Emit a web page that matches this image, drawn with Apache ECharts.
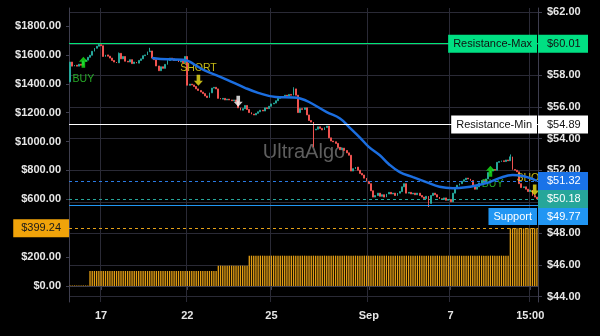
<!DOCTYPE html>
<html>
<head>
<meta charset="utf-8">
<script src="https://cdn.jsdelivr.net/npm/echarts/dist/echarts.min.js"></script>
<style>
  html, body { margin: 0; padding: 0; background: #000; }
  #chart { width: 600px; height: 336px; }
</style>
</head>
<body>
<div id="chart"></div>
<script>
// Hourly closes, oldest first (right price scale, USD)
const closes = [
  58.85, 58.59, 58.65, 58.59, 58.71, 58.65, 58.90, 58.97, 59.15, 59.28,
  59.53, 59.72, 59.85, 59.95, 59.88, 59.20, 59.30, 59.22, 59.10, 58.95,
  58.85, 58.80, 59.40, 59.05, 59.20, 58.90, 58.85, 59.00, 58.75, 58.85,
  58.78, 58.95, 59.05, 59.25, 59.30, 59.50, 59.55, 59.10, 59.00, 58.60,
  58.30, 58.55, 58.45, 58.70, 58.95, 59.10, 59.05, 58.95, 59.00, 58.85,
  58.90, 58.80, 59.20, 57.38, 57.45, 57.40, 57.30, 57.15, 57.05, 56.95,
  56.85, 56.70, 56.60, 56.90, 57.20, 57.25, 57.15, 56.55, 56.50, 56.55,
  56.45, 56.50, 56.45, 56.40, 56.45, 56.35, 55.95, 55.80, 55.90, 56.10,
  55.85, 55.65, 55.55, 55.50, 55.60, 55.70, 55.80, 55.75, 55.95, 55.90,
  56.05, 56.20, 56.25, 56.40, 56.55, 56.60, 56.65, 56.75, 56.70, 56.80,
  56.75, 57.15, 56.75, 55.65, 55.90, 55.85, 55.95, 55.50, 55.15, 55.05,
  54.55, 54.60, 54.75, 54.65, 54.55, 54.70, 54.80, 54.05, 53.85, 53.80,
  53.70, 53.45, 53.30, 53.40, 53.25, 53.10, 52.95, 51.95, 52.10, 52.20,
  52.00, 51.80, 51.70, 51.50, 51.30, 51.15, 50.70, 50.30, 50.40, 50.55,
  50.35, 50.45, 50.30, 50.50, 50.60, 50.50, 50.55, 50.40, 50.55, 50.65,
  50.95, 51.15, 50.55, 50.60, 50.50, 50.55, 50.45, 50.55, 50.40, 50.30,
  50.20, 50.35, 49.90, 50.40, 50.55, 50.45, 50.30, 50.20, 50.15, 50.25,
  50.10, 50.15, 50.00, 50.55, 50.90, 51.05, 51.15, 51.30, 51.40, 51.50,
  51.45, 51.35, 51.05, 50.80, 50.95, 51.20, 51.35, 51.25, 51.45, 51.85,
  51.95, 52.05, 52.00, 52.50, 52.55, 52.60, 52.55, 52.65, 52.60, 52.85,
  52.05, 52.00, 51.90, 51.15, 50.90, 50.95, 50.80, 50.65, 50.75, 50.40,
  50.30, 50.18
];
const firstOpen = 57.60;
// Wicks that reach beyond the candle body
const wickHighs = { 13: 60.00, 22: 59.45, 36: 59.75, 101: 57.25, 199: 53.00 };
const wickLows = { 0: 57.57, 110: 53.46, 162: 49.67 };

// Moving average, [bar index, price]
const maPoints = [
  [37, 59.11], [44, 59.02], [51, 59.00], [54, 58.88], [57, 58.62], [61, 58.30],
  [66, 58.02], [71, 57.72], [79, 57.22], [85, 56.90], [93, 56.63], [101, 56.60],
  [104, 56.54], [108, 56.32], [116, 55.68], [122, 55.28], [126, 54.75], [131, 54.07],
  [135, 53.48], [140, 52.95], [144, 52.40], [149, 51.88], [155, 51.56], [161, 51.25],
  [167, 50.95], [173, 50.86], [179, 50.92], [184, 51.05], [189, 51.22], [194, 51.50],
  [200, 51.70], [205, 51.62], [209, 51.45], [211, 51.32]
];

// Position value on the left scale, as runs [first bar, last bar, value]
const stakeRuns = [[0, 8, 4], [9, 66, 104], [67, 80, 141], [81, 198, 210], [199, 211, 399.24]];
const stakeLevel = 399.24;

// Horizontal levels (right scale)
const resistanceMax = 60.01;
const resistanceMin = 54.89;
const supportLevel = 49.77;

// Time axis labels at bar indices
const tickIndex = [14, 53, 91, 135, 172, 208];
const tickLabels = ['17', '22', '25', 'Sep', '7', '15:00'];

// Signals, [bar index, price]
const buyArrows = [[6, 58.84], [190, 51.94]];
const buyTexts = [[6, 57.80], [191, 51.12]];
const shortArrows = [[58, 57.70], [210, 50.75]];
const shortTexts = [[58, 58.46], [210, 51.53]];
const exitArrows = [[76, 56.37]];

// Visible ranges of the two price scales
const rightRange = [43.66, 62.27];
const leftRange = [-110.8, 1924.6];

// ---- build series data ----
const N = closes.length;
const categories = closes.map((_, i) => String(i));
const candles = closes.map((c, i) => {
  const o = i === 0 ? firstOpen : closes[i - 1];
  const h = wickHighs[i] !== undefined ? wickHighs[i] : Math.max(o, c);
  const l = wickLows[i] !== undefined ? wickLows[i] : Math.min(o, c);
  return [o, c, l, h];
});
const stakeBars = new Array(N).fill(null);
stakeRuns.forEach(([a, b, v]) => { for (let i = a; i <= b; i++) stakeBars[i] = v; });
const lastClose = closes[N - 1];
const maLast = maPoints[maPoints.length - 1][1];

const money = v => '$' + v.toFixed(2);
const isTick = idx => tickIndex.indexOf(idx) >= 0;
const FONT = 'Liberation Sans';
const gridColor = '#2a2a36';
const axisColor = '#3e3e4e';
const arrowPath = 'path://M5,0 L10,5 L7,5 L7,11 L3,11 L3,5 L0,5 Z';

function valueBox(bg, fg, offsetDown) {
  const base = { fontFamily: FONT, fontSize: 11, lineHeight: 12 };
  if (!offsetDown) {
    return Object.assign({ show: true, position: 'end', distance: 0, backgroundColor: bg, color: fg,
      padding: [3, 7, 3, 9], width: 34 }, base);
  }
  return { show: true, position: 'end', distance: 0,
    rich: { gap: { height: 22, fontSize: 11 },
            box: Object.assign({ backgroundColor: bg, color: fg, padding: [3, 7, 3, 9], width: 34 }, base) } };
}
function nameBox(bg, fg, offsetDown) {
  const base = { fontFamily: FONT, fontSize: 11, lineHeight: 12 };
  if (!offsetDown) {
    return Object.assign({ show: true, position: 'insideEnd', distance: [1, 0], backgroundColor: bg, color: fg,
      padding: [3, 5, 3, 5] }, base);
  }
  return { show: true, position: 'insideEnd', distance: [1, 0],
    rich: { gap: { height: 22, fontSize: 11 },
            box: Object.assign({ backgroundColor: bg, color: fg, padding: [3, 5, 3, 5] }, base) } };
}
// One level: a coloured line carrying the price tag, plus a clear line carrying the name tag
function level(value, stroke, dash, tagBg, tagFg, name, offsetDown) {
  const items = [{
    yAxis: value,
    lineStyle: { color: stroke, type: dash, width: 1, opacity: 1 },
    itemStyle: { color: stroke },
    label: Object.assign(valueBox(tagBg, tagFg, offsetDown),
      { formatter: offsetDown ? '{gap| }\n{box|' + money(value) + '}' : money(value) })
  }];
  if (name) {
    items.push({
      yAxis: value,
      lineStyle: { color: 'rgba(0,0,0,0)', type: 'solid', width: 1 },
      label: Object.assign(nameBox(tagBg, tagFg, offsetDown),
        { formatter: offsetDown ? '{gap| }\n{box|' + name + '}' : name })
    });
  }
  return items;
}

const chart = echarts.init(document.getElementById('chart'), null, { renderer: 'canvas' });
chart.setOption({
  backgroundColor: '#000000',
  animation: false,
  grid: { left: 69, right: 62, top: 8, bottom: 34, containLabel: false, outerBoundsMode: 'none' },
  graphic: [{
    type: 'text', x: 304, y: 152, z: 0, silent: true,
    style: { text: 'UltraAlgo', fill: '#5e5e5e', font: '20px "Liberation Sans"', align: 'center', verticalAlign: 'middle' }
  }],
  xAxis: {
    type: 'category',
    data: categories,
    boundaryGap: true,
    axisLine: { show: true, lineStyle: { color: axisColor } },
    axisTick: { show: true, length: 4, alignWithLabel: true, interval: idx => isTick(idx), lineStyle: { color: axisColor } },
    axisLabel: {
      show: true, interval: idx => isTick(idx), margin: 8,
      color: '#e6e6e6', fontFamily: FONT, fontSize: 11, fontWeight: 'bold',
      formatter: (v, idx) => { const k = tickIndex.indexOf(idx); return k >= 0 ? tickLabels[k] : ''; }
    },
    splitLine: { show: true, interval: idx => isTick(idx), lineStyle: { color: gridColor, width: 1 } }
  },
  yAxis: [
    {
      type: 'value', position: 'left', min: leftRange[0], max: leftRange[1], splitNumber: 10, scale: true,
      axisLine: { show: true, lineStyle: { color: axisColor } },
      axisTick: { show: true, length: 3, lineStyle: { color: axisColor } },
      splitLine: { show: false },
      axisLabel: {
        show: true, margin: 8, color: '#e6e6e6', fontFamily: FONT, fontSize: 11, fontWeight: 'bold',
        showMinLabel: false, showMaxLabel: false,
        formatter: v => { const r = Math.round(v); return (Math.abs(v - r) < 1e-6 && r >= 0 && r % 200 === 0 && r !== 400) ? money(r) : ''; }
      }
    },
    {
      type: 'value', position: 'right', min: rightRange[0], max: rightRange[1], splitNumber: 9, scale: true,
      axisLine: { show: true, lineStyle: { color: axisColor } },
      axisTick: { show: true, length: 4, lineStyle: { color: axisColor } },
      splitLine: { show: true, showMinLine: false, showMaxLine: false, lineStyle: { color: gridColor, width: 1 } },
      axisLabel: {
        show: true, margin: 9, color: '#e6e6e6', fontFamily: FONT, fontSize: 11, fontWeight: 'bold',
        showMinLabel: false, showMaxLabel: false,
        formatter: v => { const r = Math.round(v); return (Math.abs(v - r) < 1e-6 && r % 2 === 0) ? money(r) : ''; }
      }
    }
  ],
  series: [
    {
      name: 'Position', type: 'bar', xAxisIndex: 0, yAxisIndex: 0, z: 1,
      data: stakeBars, barWidth: '60%',
      itemStyle: { color: '#e39e14' },
      markLine: {
        silent: true, symbol: ['none', 'none'], animation: false,
        data: [{
          yAxis: stakeLevel,
          lineStyle: { color: '#e6a117', type: [3, 3], width: 1 },
          label: { show: true, position: 'start', distance: 0, formatter: money(stakeLevel),
                   backgroundColor: '#f0a30a', color: '#1a1a1a', padding: [3, 8, 3, 8],
                   fontFamily: FONT, fontSize: 11, lineHeight: 12 }
        }]
      }
    },
    {
      name: 'Price', type: 'candlestick', xAxisIndex: 0, yAxisIndex: 1, z: 2,
      data: candles, barWidth: '62%',
      itemStyle: { color: '#26a69a', color0: '#ef5350', borderColor: '#26a69a', borderColor0: '#ef5350', borderWidth: 1 }
    },
    {
      name: 'Levels', type: 'line', xAxisIndex: 0, yAxisIndex: 1, z: 5,
      data: [], symbol: 'none', lineStyle: { width: 0 },
      markLine: {
        silent: true, symbol: ['none', 'none'], animation: false, z: 5,
        data: [].concat(
          level(resistanceMax, '#00e676', 'solid', '#00e083', '#111111', 'Resistance-Max'),
          level(resistanceMin, '#ffffff', 'solid', '#ffffff', '#111111', 'Resistance-Min'),
          level(maLast, '#2a7be4', [3, 3], '#1a73e8', '#ffffff'),
          level(lastClose, '#26a69a', [3, 3], '#26a69a', '#ffffff'),
          level(supportLevel, '#2196f3', 'solid', '#2196f3', '#ffffff', 'Support', true)
        )
      }
    },
    {
      name: 'MA', type: 'line', xAxisIndex: 0, yAxisIndex: 1, z: 3,
      data: maPoints, smooth: 0.4, showSymbol: false, symbol: 'none',
      lineStyle: { color: '#1b6ee0', width: 2.5 }
    },
    {
      name: 'Buy text', type: 'scatter', yAxisIndex: 1, z: 2, data: buyTexts, symbolSize: 1,
      itemStyle: { color: 'rgba(0,0,0,0)' },
      label: { show: true, position: 'inside', formatter: 'BUY', color: '#2fd12f', fontFamily: FONT, fontSize: 10.5 }
    },
    {
      name: 'Short text', type: 'scatter', yAxisIndex: 1, z: 2, data: shortTexts, symbolSize: 1, clip: false,
      itemStyle: { color: 'rgba(0,0,0,0)' },
      label: { show: true, position: 'inside', formatter: 'SHORT', color: '#f2e51c', fontFamily: FONT, fontSize: 10.5 }
    },
    {
      name: 'Buy', type: 'scatter', yAxisIndex: 1, z: 4, data: buyArrows,
      symbol: arrowPath, symbolSize: [9, 11], itemStyle: { color: '#19e619' }
    },
    {
      name: 'Short', type: 'scatter', yAxisIndex: 1, z: 4, data: shortArrows,
      symbol: arrowPath, symbolSize: [9, 11], symbolRotate: 180, itemStyle: { color: '#f2e51c' }
    },
    {
      name: 'Exit', type: 'scatter', yAxisIndex: 1, z: 4, data: exitArrows,
      symbol: arrowPath, symbolSize: [9, 11], symbolRotate: 180, itemStyle: { color: '#ffffff' }
    }
  ]
});
</script>
</body>
</html>
